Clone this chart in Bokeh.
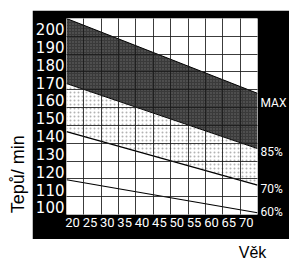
from math import pi
from bokeh.plotting import figure
from bokeh.models import Range1d, FixedTicker, LinearAxis, Label, Spacer
from bokeh.layouts import column, row
from bokeh.embed import file_html
from bokeh.resources import INLINE

# ---- data ----
ages = [20, 75]
hr_max = [200, 158]      # upper edge of the dark band (MAX)
hr_85 = [163.5, 127]     # lower edge of the dark band (85 %)
hr_70 = [136.5, 106.5]   # 70 % line
hr_60 = [109.5, 91]      # 60 % line

age_ticks = [20, 25, 30, 35, 40, 45, 50, 55, 60, 65, 70]
hr_ticks = [200, 190, 180, 170, 160, 150, 140, 130, 120, 110, 100]
zone_labels = ["MAX", "85%", "70%", "60%"]
zone_label_hr = [152.5, 125, 104.5, 91.5]

age_grid = [20, 25, 30, 35, 40, 45, 50, 55, 60, 65, 70, 75]
hr_grid = [90, 100, 110, 120, 130, 140, 150, 160, 170, 180, 190, 200]

X_SHIFT = 1.75   # labels printed to the right of their grid line
Y_SHIFT = -6     # labels printed below their grid line

NARROW = "Roboto"

# ---- main chart ----
p = figure(width=257, height=229, x_range=Range1d(20, 75), y_range=Range1d(90, 200),
           output_backend="svg", toolbar_location=None,
           min_border_left=31, min_border_right=29, min_border_top=8, min_border_bottom=25,
           border_fill_color="black", background_fill_color="white",
           outline_line_color=None)

xt = [a + X_SHIFT for a in age_ticks]
p.xaxis.ticker = FixedTicker(ticks=xt)
p.xaxis.major_label_overrides = {t: str(a) for t, a in zip(xt, age_ticks)}
p.xaxis.major_label_text_color = "white"
p.xaxis.major_label_text_font = NARROW
p.xaxis.major_label_text_font_size = "13px"
p.xaxis.major_label_standoff = 3

yt = [h + Y_SHIFT for h in hr_ticks]
p.yaxis.ticker = FixedTicker(ticks=yt)
p.yaxis.major_label_overrides = {t: str(h) for t, h in zip(yt, hr_ticks)}
p.yaxis.major_label_text_color = "white"
p.yaxis.major_label_text_font = "DejaVu Sans"
p.yaxis.major_label_text_font_size = "15px"
p.yaxis.major_label_standoff = 2

ra = LinearAxis(ticker=FixedTicker(ticks=zone_label_hr),
                major_label_overrides=dict(zip(zone_label_hr, zone_labels)))
ra.major_label_text_color = "white"
ra.major_label_text_font = NARROW
ra.major_label_text_font_size = "12px"
ra.major_label_standoff = 3
p.add_layout(ra, "right")

for ax in (p.xaxis[0], p.yaxis[0], ra):
    ax.axis_line_color = None
    ax.major_tick_line_color = None
    ax.minor_tick_line_color = None
    ax.major_tick_out = 0
    ax.major_tick_in = 0

p.xgrid.ticker = FixedTicker(ticks=age_grid)
p.ygrid.ticker = FixedTicker(ticks=hr_grid)
p.grid.grid_line_color = "#1a1a1a"
p.grid.grid_line_width = 1
p.grid.grid_line_alpha = 0.85
p.grid.level = "annotation"

# shaded zones
p.varea(x=ages, y1=hr_85, y2=hr_max, fill_color="#3a3a3a",
        hatch_pattern="dot", hatch_color="#a0a0a0", hatch_scale=3,
        hatch_weight=1, hatch_alpha=0.5)
p.varea(x=ages, y1=hr_70, y2=hr_85, fill_color="white",
        hatch_pattern="dot", hatch_color="#808080", hatch_scale=4,
        hatch_weight=1, hatch_alpha=0.6)

for ys, w in ((hr_max, 1), (hr_85, 1), (hr_70, 1.2), (hr_60, 1.2)):
    p.line(ages, ys, line_color="black", line_width=w)

# ---- side panels with the axis titles ----
def blank(w, h):
    f = figure(width=w, height=h, x_range=Range1d(0, w), y_range=Range1d(0, h),
               output_backend="svg", toolbar_location=None, min_border=0,
               x_axis_location=None, y_axis_location=None,
               outline_line_color=None, background_fill_color="white",
               border_fill_color="white")
    f.grid.visible = False
    return f

left = blank(32, 229)
left.add_layout(Label(x=17, y=47, text="Tepů/ min", angle=pi / 2,
                      text_align="center", text_baseline="middle",
                      text_font="Liberation Sans", text_font_size="18px",
                      text_color="black"))

bottom = blank(289, 23)
bottom.add_layout(Label(x=252, y=10, text="Věk",
                        text_align="center", text_baseline="middle",
                        text_font="Liberation Sans", text_font_size="16px",
                        text_color="black"))

layout = column(Spacer(width=289, height=10), row(left, p), bottom)

open("out.html", "w").write(file_html(layout, INLINE))
